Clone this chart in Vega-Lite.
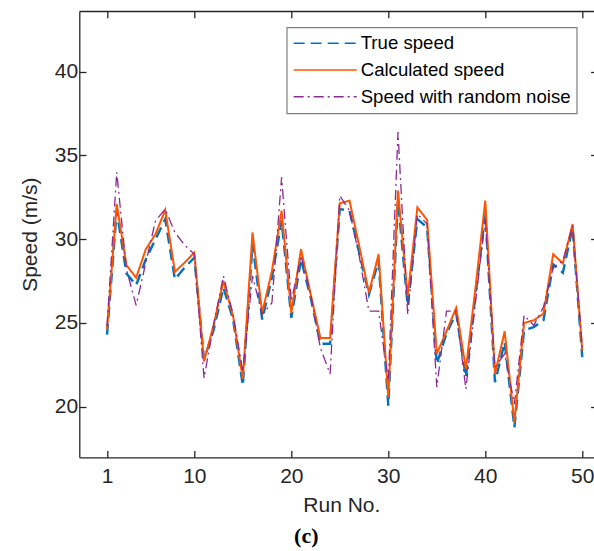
{
 "$schema": "https://vega.github.io/schema/vega-lite/v6.json",
 "width": 518,
 "height": 446.3,
 "autosize": {"type": "none"},
 "padding": {"left": 79.3, "top": 11, "right": -3.3, "bottom": 93.7},
 "background": "white",
 "title": {"text": "(c)", "orient": "bottom", "font": "Liberation Serif", "fontSize": 22, "fontWeight": "bold", "color": "#000000", "anchor": "middle", "dx": -32, "offset": 11},
 "data": {"values": [
  {"run": 1, "True speed": 24.3, "Calculated speed": 24.6, "Speed with random noise": 24.8},
  {"run": 2, "True speed": 31.7, "Calculated speed": 32.1, "Speed with random noise": 34.0},
  {"run": 3, "True speed": 27.95, "Calculated speed": 28.45, "Speed with random noise": 28.2},
  {"run": 4, "True speed": 27.25, "Calculated speed": 27.7, "Speed with random noise": 26.05},
  {"run": 5, "True speed": 28.8, "Calculated speed": 29.4, "Speed with random noise": 28.6},
  {"run": 6, "True speed": 30.0, "Calculated speed": 30.3, "Speed with random noise": 31.1},
  {"run": 7, "True speed": 31.2, "Calculated speed": 31.75, "Speed with random noise": 31.8},
  {"run": 8, "True speed": 27.6, "Calculated speed": 28.05, "Speed with random noise": 30.4},
  {"run": 9, "True speed": 28.3, "Calculated speed": 28.6, "Speed with random noise": 29.65},
  {"run": 10, "True speed": 28.9, "Calculated speed": 29.2, "Speed with random noise": 29.1},
  {"run": 11, "True speed": 22.8, "Calculated speed": 22.7, "Speed with random noise": 21.7},
  {"run": 12, "True speed": 24.6, "Calculated speed": 24.9, "Speed with random noise": 24.9},
  {"run": 13, "True speed": 27.1, "Calculated speed": 27.5, "Speed with random noise": 27.8},
  {"run": 14, "True speed": 25.2, "Calculated speed": 25.4, "Speed with random noise": 25.5},
  {"run": 15, "True speed": 21.25, "Calculated speed": 21.65, "Speed with random noise": 22.1},
  {"run": 16, "True speed": 29.7, "Calculated speed": 30.4, "Speed with random noise": 27.8},
  {"run": 17, "True speed": 25.2, "Calculated speed": 25.6, "Speed with random noise": 25.5},
  {"run": 18, "True speed": 27.7, "Calculated speed": 28.1, "Speed with random noise": 26.2},
  {"run": 19, "True speed": 31.1, "Calculated speed": 31.7, "Speed with random noise": 33.7},
  {"run": 20, "True speed": 25.3, "Calculated speed": 25.6, "Speed with random noise": 26.3},
  {"run": 21, "True speed": 28.8, "Calculated speed": 29.4, "Speed with random noise": 29.0},
  {"run": 22, "True speed": 26.5, "Calculated speed": 26.7, "Speed with random noise": 26.7},
  {"run": 23, "True speed": 23.75, "Calculated speed": 24.1, "Speed with random noise": 23.5},
  {"run": 24, "True speed": 23.75, "Calculated speed": 24.1, "Speed with random noise": 21.95},
  {"run": 25, "True speed": 31.8, "Calculated speed": 32.15, "Speed with random noise": 32.6},
  {"run": 26, "True speed": 31.7, "Calculated speed": 32.3, "Speed with random noise": 31.7},
  {"run": 27, "True speed": 29.2, "Calculated speed": 29.6, "Speed with random noise": 29.0},
  {"run": 28, "True speed": 26.7, "Calculated speed": 26.8, "Speed with random noise": 25.7},
  {"run": 29, "True speed": 28.7, "Calculated speed": 29.1, "Speed with random noise": 25.7},
  {"run": 30, "True speed": 20.05, "Calculated speed": 20.55, "Speed with random noise": 21.55},
  {"run": 31, "True speed": 32.3, "Calculated speed": 32.9, "Speed with random noise": 36.4},
  {"run": 32, "True speed": 26.0, "Calculated speed": 26.6, "Speed with random noise": 25.5},
  {"run": 33, "True speed": 31.2, "Calculated speed": 31.9, "Speed with random noise": 31.5},
  {"run": 34, "True speed": 30.7, "Calculated speed": 31.15, "Speed with random noise": 30.9},
  {"run": 35, "True speed": 22.55, "Calculated speed": 23.15, "Speed with random noise": 21.15},
  {"run": 36, "True speed": 24.35, "Calculated speed": 24.5, "Speed with random noise": 25.7},
  {"run": 37, "True speed": 25.6, "Calculated speed": 25.9, "Speed with random noise": 25.7},
  {"run": 38, "True speed": 21.75, "Calculated speed": 22.25, "Speed with random noise": 21.05},
  {"run": 39, "True speed": 26.7, "Calculated speed": 27.15, "Speed with random noise": 26.3},
  {"run": 40, "True speed": 31.5, "Calculated speed": 32.3, "Speed with random noise": 31.2},
  {"run": 41, "True speed": 21.45, "Calculated speed": 21.95, "Speed with random noise": 22.35},
  {"run": 42, "True speed": 23.85, "Calculated speed": 24.5, "Speed with random noise": 23.15},
  {"run": 43, "True speed": 18.75, "Calculated speed": 19.05, "Speed with random noise": 20.15},
  {"run": 44, "True speed": 24.55, "Calculated speed": 25.0, "Speed with random noise": 25.45},
  {"run": 45, "True speed": 24.75, "Calculated speed": 25.15, "Speed with random noise": 24.85},
  {"run": 46, "True speed": 25.15, "Calculated speed": 25.55, "Speed with random noise": 25.95},
  {"run": 47, "True speed": 28.5, "Calculated speed": 29.1, "Speed with random noise": 28.3},
  {"run": 48, "True speed": 28.0, "Calculated speed": 28.55, "Speed with random noise": 28.7},
  {"run": 49, "True speed": 30.7, "Calculated speed": 30.9, "Speed with random noise": 30.8},
  {"run": 50, "True speed": 22.95, "Calculated speed": 23.35, "Speed with random noise": 23.5}
 ]},
 "transform": [{"fold": ["True speed", "Calculated speed", "Speed with random noise"], "as": ["series", "speed"]}],
 "encoding": {
  "color": {"field": "series", "type": "nominal",
   "scale": {"domain": ["True speed", "Calculated speed", "Speed with random noise"], "range": ["#0072BD", "#FF5500", "#8B2A92"]},
   "legend": {"title": null, "orient": "none", "legendX": 207.4, "legendY": 16.3}},
  "strokeDash": {"field": "series", "type": "nominal",
   "scale": {"domain": ["True speed", "Calculated speed", "Speed with random noise"], "range": [[11, 6], [1, 0], [10, 4, 2, 4]]},
   "legend": {"title": null, "orient": "none", "legendX": 207.4, "legendY": 16.3}}
 },
 "layer": [
  {
   "transform": [{"filter": {"field": "series", "equal": "True speed"}}],
   "mark": {"type": "line", "strokeWidth": 2.4},
   "encoding": {
    "x": {"field": "run", "type": "quantitative", "scale": {"domain": [-1.86, 51.55], "nice": false, "zero": false},
     "axis": {"orient": "bottom", "values": [1, 10, 20, 30, 40, 50], "title": "Run No.", "titleX": 262, "titlePadding": 8, "labelPadding": 14.5}},
    "y": {"field": "speed", "type": "quantitative", "scale": {"domain": [16.97, 43.63], "nice": false, "zero": false},
     "axis": {"orient": "left", "values": [20, 25, 30, 35, 40], "title": "Speed (m/s)", "labelPadding": 8.3, "titlePadding": 14}}
   }
  },
  {
   "transform": [{"filter": {"field": "series", "equal": "Calculated speed"}}],
   "mark": {"type": "line", "strokeWidth": 2},
   "encoding": {
    "x": {"field": "run", "type": "quantitative", "scale": {"domain": [-1.86, 51.55], "nice": false, "zero": false},
     "axis": {"orient": "top", "values": [1, 10, 20, 30, 40, 50], "title": null, "labels": false}},
    "y": {"field": "speed", "type": "quantitative", "scale": {"domain": [16.97, 43.63], "nice": false, "zero": false},
     "axis": {"orient": "right", "values": [20, 25, 30, 35, 40], "title": null, "labels": false}}
   }
  },
  {
   "transform": [{"filter": {"field": "series", "equal": "Speed with random noise"}}],
   "mark": {"type": "line", "strokeWidth": 1.3},
   "encoding": {
    "x": {"field": "run", "type": "quantitative", "scale": {"domain": [-1.86, 51.55], "nice": false, "zero": false}, "axis": null},
    "y": {"field": "speed", "type": "quantitative", "scale": {"domain": [16.97, 43.63], "nice": false, "zero": false}, "axis": null}
   }
  }
 ],
 "resolve": {"axis": {"x": "independent", "y": "independent"}},
 "config": {
  "view": {"stroke": null},
  "font": "Liberation Sans",
  "axis": {"grid": false, "domainColor": "#262626", "domainWidth": 1.3, "tickColor": "#262626", "tickWidth": 1.3, "tickSize": -6.7,
   "labelFont": "Liberation Sans", "labelFontSize": 21, "labelColor": "#262626", "labelFlush": false, "labelOverlap": false,
   "titleFont": "Liberation Sans", "titleFontSize": 21, "titleFontWeight": "normal", "titleColor": "#262626"},
  "legend": {"fillColor": "white", "strokeColor": "#808080", "strokeWidth": 1.2, "padding": 6, "symbolType": "stroke", "symbolSize": 3969,
   "clipHeight": 20, "rowPadding": 6.7, "labelFont": "Liberation Sans", "labelFontSize": 18.6, "labelColor": "#000000", "labelOffset": 3,
   "symbolStrokeWidth": 1.5, "labelLimit": 400}
 }
}
